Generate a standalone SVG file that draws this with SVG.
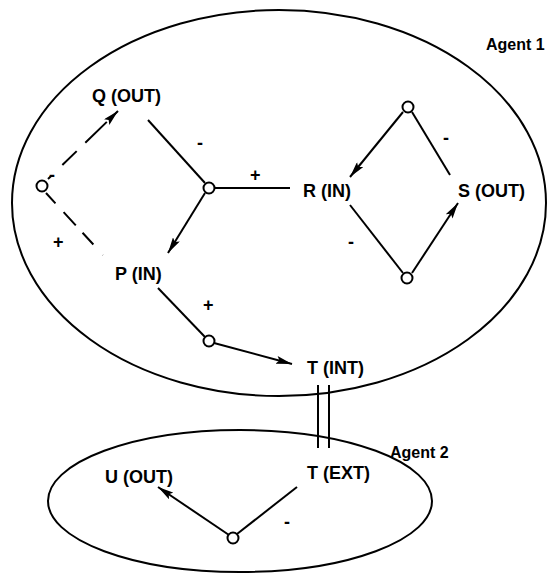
<svg xmlns="http://www.w3.org/2000/svg" width="560" height="575" viewBox="0 0 560 575">
<style>
text{font-family:"Liberation Sans",Arial,sans-serif;font-weight:bold;font-size:18px;fill:#000}
.ag{font-size:16px}
.sg{font-size:18px}
.e{fill:none;stroke:#000;stroke-width:2}
.c{fill:#fff;stroke:#000;stroke-width:2}
.l{stroke:#000;stroke-width:2;fill:none}
</style>
<defs>
<marker id="ah" viewBox="0 0 16 8" refX="16" refY="4" markerWidth="16" markerHeight="8" markerUnits="userSpaceOnUse" orient="auto">
<path d="M0,0 L16,4 L0,8 L3,4 z" fill="#000"/>
</marker>
</defs>
<g id="agent1">
<ellipse class="e" cx="279" cy="203" rx="267" ry="193"/>
<text class="ag" x="486" y="50">Agent 1</text>
</g>
<g id="agent2">
<ellipse class="e" cx="240" cy="501" rx="192" ry="71"/>
<text class="ag" x="390" y="458">Agent 2</text>
</g>
<g id="connectors">
<path class="l" d="M48,179 L118,111" marker-end="url(#ah)" stroke-dasharray="4,16,20,12,30"/>
<path class="l" d="M46,193 L103,255" stroke-dasharray="14,12,18,10,16"/>
<path class="l" d="M148,120 L205,183"/>
<path class="l" d="M214,188 L290,188"/>
<path class="l" d="M205,193 L168,253" marker-end="url(#ah)"/>
<path class="l" d="M158,288 L205,337"/>
<path class="l" d="M214,343 L292,364" marker-end="url(#ah)"/>
<path class="l" d="M403,112 L350,177" marker-end="url(#ah)"/>
<path class="l" d="M412,112 L450,175"/>
<path class="l" d="M350,205 L403,273"/>
<path class="l" d="M412,273 L458,203" marker-end="url(#ah)"/>
<path class="l" d="M318,385 L318,448 M329,385 L329,448"/>
<path class="l" d="M229,535 L158,487" marker-end="url(#ah)"/>
<path class="l" d="M237,534 L297,487"/>
</g>
<g id="signs">
<text class="sg" x="49" y="181">-</text>
<text class="sg" x="53" y="248">+</text>
<text class="sg" x="197" y="149">-</text>
<text class="sg" x="250" y="181">+</text>
<text class="sg" x="203" y="311">+</text>
<text class="sg" x="443" y="144">-</text>
<text class="sg" x="348" y="248">-</text>
<text class="sg" x="284" y="528">-</text>
</g>
<g id="Q"><text x="92" y="102">Q (OUT)</text></g>
<g id="P"><text x="115" y="280">P (IN)</text></g>
<g id="R"><text x="303" y="197">R (IN)</text></g>
<g id="S"><text x="458" y="197">S (OUT)</text></g>
<g id="TINT"><text x="307" y="374">T (INT)</text></g>
<g id="TEXT"><text x="307" y="479">T (EXT)</text></g>
<g id="U"><text x="105" y="483">U (OUT)</text></g>
<g id="t1"><circle class="c" cx="42" cy="186" r="5.5"/></g>
<g id="t2"><circle class="c" cx="209" cy="188" r="5.5"/></g>
<g id="t3"><circle class="c" cx="209" cy="341" r="5.5"/></g>
<g id="t4"><circle class="c" cx="408" cy="107" r="5.5"/></g>
<g id="t5"><circle class="c" cx="407" cy="278" r="5.5"/></g>
<g id="t6"><circle class="c" cx="233" cy="538" r="5.5"/></g>
</svg>
